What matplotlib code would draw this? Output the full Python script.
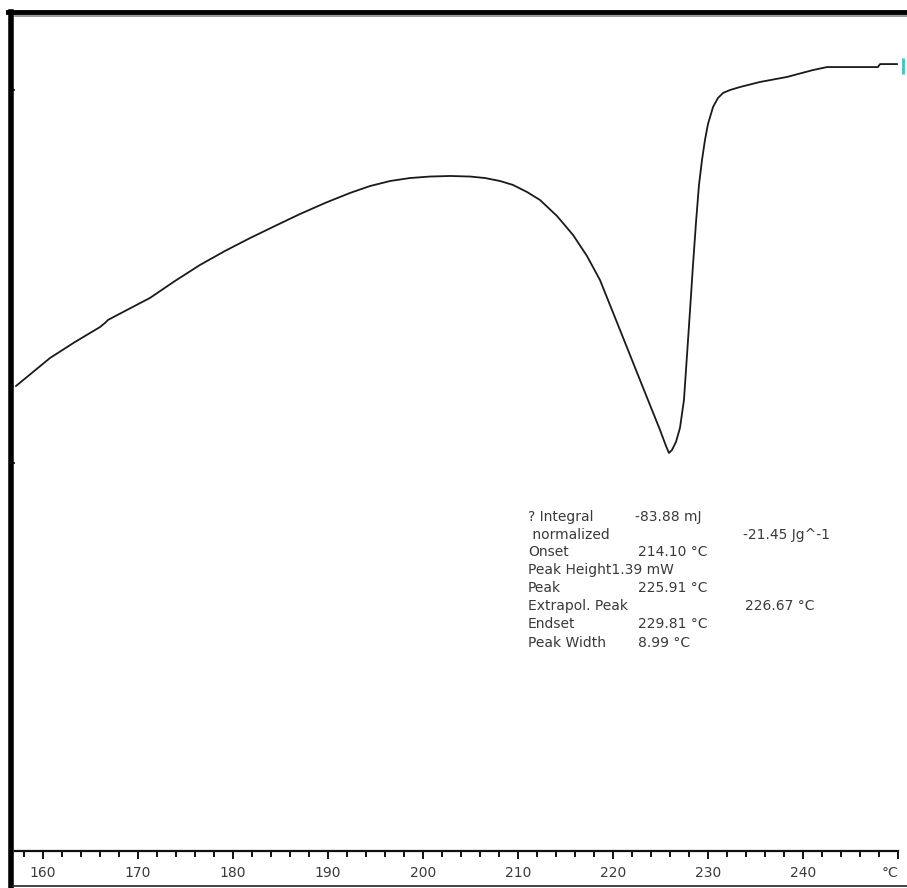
"""
DSC melting curve (heat flow vs temperature) in the style of a STARe export.
"""

import matplotlib
matplotlib.use("Agg")
import matplotlib.pyplot as plt
from matplotlib.lines import Line2D

W, H = 907, 888

# curve: temperature in degC, heat flow in mW
temperature = [157.16, 158.95, 160.74, 163.37, 166.00, 166.53, 166.84, 168.63,
               171.26, 173.89, 176.53, 179.16, 181.79, 184.42, 187.05, 189.68,
               192.32, 194.42, 196.53, 198.63, 200.74, 202.84, 204.95, 206.53,
               208.11, 209.47, 210.95, 212.32, 214.11, 215.79, 217.26, 218.63,
               220.74, 222.84, 224.95, 225.58, 225.89, 226.21, 226.63, 227.05,
               227.47, 227.79, 228.11, 228.42, 228.74, 229.05, 229.37, 229.68,
               230.00, 230.53, 231.05, 231.58, 232.32, 233.37, 235.47, 238.32,
               241.05, 242.53, 247.89, 248.11, 249.89]
heat_flow = [-1.587, -1.512, -1.437, -1.351, -1.271, -1.249, -1.233, -1.185,
             -1.115, -1.024, -0.938, -0.863, -0.794, -0.729, -0.665, -0.606,
             -0.552, -0.515, -0.488, -0.472, -0.464, -0.461, -0.464, -0.472,
             -0.488, -0.509, -0.547, -0.590, -0.676, -0.777, -0.890, -1.019,
             -1.287, -1.555, -1.823, -1.909, -1.946, -1.930, -1.887, -1.812,
             -1.662, -1.421, -1.180, -0.938, -0.708, -0.509, -0.375, -0.268,
             -0.182, -0.091, -0.043, -0.016, 0.000, 0.016, 0.043, 0.070,
             0.107, 0.123, 0.123, 0.139, 0.139]

major_ticks = [160, 170, 180, 190, 200, 210, 220, 230, 240, 250]
major_labels = ["160", "170", "180", "190", "200", "210", "220", "230", "240", "°C"]
minor_ticks = list(range(158, 251, 2))
y_ticks = [-2, 0]

# evaluation box: label, value, x of value (px), row centre (px)
result_rows = [
    ("? Integral", "-83.88 mJ", 635, 517),
    (" normalized", "-21.45 Jg^-1", 743, 535),
    ("Onset", "214.10 °C", 638, 552),
    ("Peak Height1.39 mW", "", 0, 570),
    ("Peak", "225.91 °C", 638, 588),
    ("Extrapol. Peak", "226.67 °C", 745, 606),
    ("Endset", "229.81 °C", 638, 624),
    ("Peak Width", "8.99 °C", 638, 643),
]

TEXT_COLOR = "#3a3a3a"


def fx(x):
    return x / W


def fy(y):
    return 1 - y / H


fig = plt.figure(figsize=(W / 100, H / 100), dpi=100)
ax = fig.add_axes([fx(15), fy(851), fx(898) - fx(15), fy(15) - fy(851)])

ax.plot(temperature, heat_flow, color="#1a1a1a", lw=1.3, solid_joinstyle="round")
ax.plot([250.53], [0.131], marker="|", ms=11, mew=2, color="#3cc3c3",
        clip_on=False)

ax.set_xlim(160 - 28 / 9.5, 250)
ax.set_ylim(-(851 - 90) / 186.5, (90 - 15) / 186.5)

for side in ["top", "right", "left"]:
    ax.spines[side].set_visible(False)
ax.spines["bottom"].set_linewidth(1.6)
ax.spines["bottom"].set_color("#111111")

ax.set_xticks(major_ticks)
ax.set_xticklabels(major_labels)
ax.set_xticks(minor_ticks, minor=True)
ax.tick_params(axis="x", which="major", direction="out", length=6, width=1.4,
               pad=5, labelsize=10, labelcolor=TEXT_COLOR, color="#111111")
ax.tick_params(axis="x", which="minor", direction="out", length=4, width=1.4,
               color="#111111")
ax.get_xticklabels()[-1].set_horizontalalignment("right")
ax.set_yticks(y_ticks)
ax.set_yticklabels([])
ax.tick_params(axis="y", direction="out", length=3, width=1.2, color="#111111")

# outer window frame
fig.add_artist(Line2D([fx(10.5), fx(10.5)], [fy(12), fy(888)], color="black", lw=4))
fig.add_artist(Line2D([fx(8), fx(907)], [fy(12.5), fy(12.5)], color="black", lw=3.5))
fig.add_artist(Line2D([fx(15), fx(907)], [fy(16.5), fy(16.5)], color="#888888", lw=1.2))
fig.add_artist(Line2D([fx(13), fx(907)], [fy(886), fy(886)], color="#222222", lw=1.2))

for label, value, vx, y in result_rows:
    fig.text(fx(528), fy(y), label, fontsize=10, color=TEXT_COLOR, va="center")
    if value:
        fig.text(fx(vx), fy(y), value, fontsize=10, color=TEXT_COLOR, va="center")

fig.savefig("out.png", dpi=100)
